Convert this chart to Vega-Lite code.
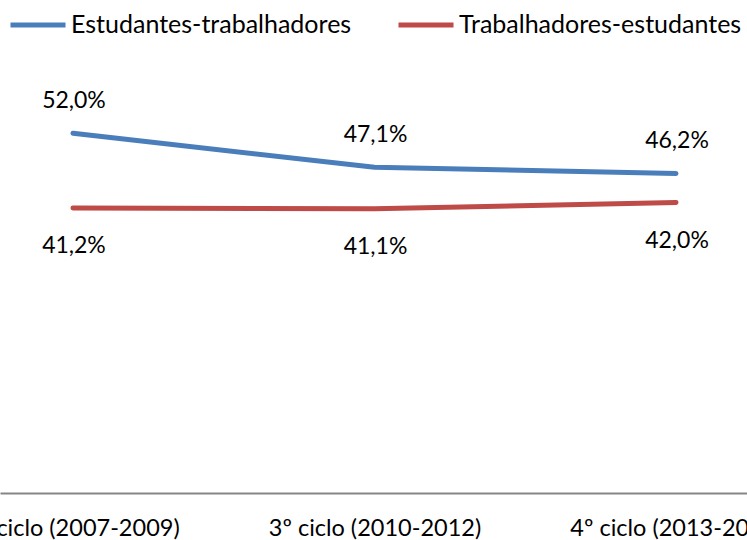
{
  "$schema": "https://vega.github.io/schema/vega-lite/v6.json",
  "width": 749,
  "height": 415,
  "autosize": {"type": "none"},
  "padding": {"left": 0, "top": 78, "right": 0, "bottom": 47},
  "config": {
    "locale": {"number": {"decimal": ",", "thousands": ".", "grouping": [3], "currency": ["", " €"]}},
    "view": {"stroke": null},
    "font": "Lato"
  },
  "data": {
    "values": [
      {"ciclo": "2º ciclo (2007-2009)", "grupo": "Estudantes-trabalhadores", "valor": 0.520},
      {"ciclo": "3º ciclo (2010-2012)", "grupo": "Estudantes-trabalhadores", "valor": 0.471},
      {"ciclo": "4º ciclo (2013-2015)", "grupo": "Estudantes-trabalhadores", "valor": 0.462},
      {"ciclo": "2º ciclo (2007-2009)", "grupo": "Trabalhadores-estudantes", "valor": 0.412},
      {"ciclo": "3º ciclo (2010-2012)", "grupo": "Trabalhadores-estudantes", "valor": 0.411},
      {"ciclo": "4º ciclo (2013-2015)", "grupo": "Trabalhadores-estudantes", "valor": 0.420}
    ]
  },
  "encoding": {
    "x": {
      "field": "ciclo", "type": "nominal", "sort": null,
      "scale": {"type": "point", "padding": 0.242},
      "axis": {
        "title": null, "ticks": false, "labelAngle": 0,
        "domainColor": "#868686", "domainWidth": 2,
        "labelFont": "Lato", "labelFontSize": 23.5, "labelColor": "#000000",
        "labelPadding": 23, "labelBaseline": "top", "labelOverlap": false,
        "labelLimit": 400, "labelBound": false, "labelFlush": false
      }
    },
    "y": {"field": "valor", "type": "quantitative", "scale": {"domain": [0, 0.6]}, "axis": null},
    "color": {
      "field": "grupo", "type": "nominal",
      "scale": {"domain": ["Estudantes-trabalhadores", "Trabalhadores-estudantes"], "range": ["#4A7EBB", "#BE4B48"]},
      "legend": {
        "title": null, "orient": "none", "direction": "horizontal",
        "legendX": 8, "legendY": -83, "padding": 0,
        "symbolType": "stroke", "symbolSize": 3025, "symbolStrokeWidth": 5,
        "labelFont": "Lato", "labelFontSize": 25, "labelColor": "#000000",
        "labelOffset": 3, "labelLimit": 400, "columnPadding": 36
      }
    }
  },
  "layer": [
    {"mark": {"type": "line", "strokeWidth": 5, "strokeCap": "round", "strokeJoin": "round"}},
    {
      "transform": [{"filter": "datum.grupo == 'Estudantes-trabalhadores'"}],
      "mark": {"type": "text", "dy": -25, "dx": 1, "baseline": "alphabetic", "fontSize": 23, "font": "Lato"},
      "encoding": {"text": {"field": "valor", "type": "quantitative", "format": ".1%"}, "color": {"value": "#000000"}}
    },
    {
      "transform": [{"filter": "datum.grupo == 'Trabalhadores-estudantes'"}],
      "mark": {"type": "text", "dy": 45, "dx": 1, "baseline": "alphabetic", "fontSize": 23, "font": "Lato"},
      "encoding": {"text": {"field": "valor", "type": "quantitative", "format": ".1%"}, "color": {"value": "#000000"}}
    }
  ]
}
